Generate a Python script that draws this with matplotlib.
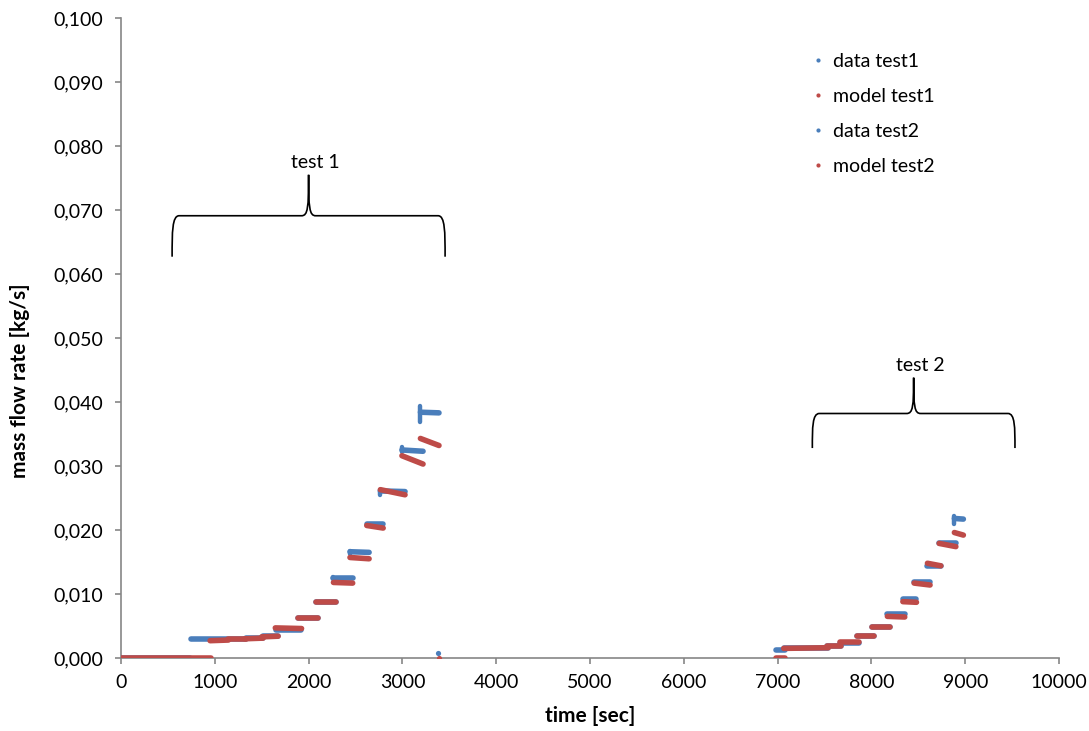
import matplotlib
matplotlib.use("Agg")
import matplotlib.pyplot as plt
from matplotlib.path import Path
from matplotlib.patches import PathPatch
from matplotlib.lines import Line2D
from matplotlib.ticker import FuncFormatter, MultipleLocator

plt.rcParams['font.family'] = ['Lato', 'DejaVu Sans']

blue = '#4A7EBB'
red = '#BE4B48'

# segments: start time, end time, value at start, value at end
d1_t0 = [0, 750, 1330, 1510, 1650, 1890, 2075, 2265, 2441, 2620, 2765, 2995, 3192]
d1_t1 = [740, 1330, 1510, 1670, 1920, 2100, 2295, 2470, 2645, 2795, 3028, 3220, 3390]
d1_v0 = [0, 0.0029, 0.0031, 0.0034, 0.0044, 0.0062, 0.0088, 0.0125, 0.0166, 0.0209, 0.0261, 0.0325, 0.0384]
d1_v1 = [0, 0.0029, 0.0031, 0.0034, 0.0044, 0.0062, 0.0088, 0.0125, 0.0165, 0.0209, 0.0260, 0.0323, 0.0383]
# short vertical jumps at the start of some steps
d1_jt = [2265, 2441, 2761, 2995, 3190]
d1_jlo = [0.0123, 0.0162, 0.0254, 0.0322, 0.0369]
d1_jhi = [0.0127, 0.0167, 0.0262, 0.0330, 0.0394]
d1_pt = [3376]
d1_pv = [0.0007]

m1_t0 = [0, 950, 1145, 1320, 1500, 1645, 1890, 2075, 2265, 2441, 2620, 2765, 2995, 3192]
m1_t1 = [960, 1145, 1330, 1515, 1675, 1925, 2100, 2295, 2470, 2645, 2795, 3028, 3220, 3390]
m1_v0 = [0, 0.0027, 0.0029, 0.0030, 0.0033, 0.0047, 0.0063, 0.0087, 0.0118, 0.0157, 0.0207, 0.0263, 0.0316, 0.0343]
m1_v1 = [0, 0.0028, 0.0029, 0.0031, 0.0034, 0.0046, 0.0063, 0.0087, 0.0117, 0.0155, 0.0203, 0.0255, 0.0303, 0.0332]
m1_pt = [3390]
m1_pv = [0.0]

d2_t0 = [6985, 7065, 7525, 7665, 7845, 8005, 8170, 8335, 8455, 8597, 8722, 8884]
d2_t1 = [7075, 7540, 7680, 7870, 8030, 8195, 8355, 8480, 8625, 8740, 8900, 8980]
d2_v0 = [0.00125, 0.0016, 0.0018, 0.0024, 0.0034, 0.0048, 0.0068, 0.0092, 0.0118, 0.0144, 0.0179, 0.0218]
d2_v1 = [0.00125, 0.0016, 0.0018, 0.0024, 0.0034, 0.0048, 0.0068, 0.0092, 0.0118, 0.0144, 0.0179, 0.0217]
d2_jt = [8884]
d2_jlo = [0.0210]
d2_jhi = [0.0222]

m2_t0 = [6985, 7065, 7525, 7665, 7845, 8005, 8170, 8335, 8455, 8597, 8722, 8884]
m2_t1 = [7075, 7540, 7680, 7870, 8030, 8195, 8355, 8480, 8625, 8740, 8900, 8980]
m2_v0 = [0, 0.0015, 0.0019, 0.0025, 0.0035, 0.0048, 0.0065, 0.0088, 0.0117, 0.0148, 0.0179, 0.0196]
m2_v1 = [0, 0.0016, 0.0019, 0.0025, 0.0035, 0.0048, 0.0064, 0.0087, 0.0114, 0.0144, 0.0174, 0.0192]

labels = ['data test1', 'model test1', 'data test2', 'model test2']

# braces: left, right, bottom, middle, tip, label
braces = [(545, 3455, 0.0627, 0.0691, 0.0755, 'test 1'),
          (7370, 9530, 0.0328, 0.0382, 0.0438, 'test 2')]

fig = plt.figure(figsize=(10.89, 7.31), dpi=100)
ax = fig.add_axes([0.1111, 0.0999, 0.8614, 0.8755])

lw = 4.0


def draw_steps(t0, t1, v0, v1, col):
    for a, b, c, d in zip(t0, t1, v0, v1):
        ax.plot([a, b], [c, d], color=col, lw=lw, solid_capstyle='round', zorder=3)


def draw_jumps(jt, lo, hi, col):
    for a, c, d in zip(jt, lo, hi):
        ax.plot([a, a], [c, d], color=col, lw=lw * 0.8, solid_capstyle='round', zorder=3)


draw_steps(d1_t0, d1_t1, d1_v0, d1_v1, blue)
draw_jumps(d1_jt, d1_jlo, d1_jhi, blue)
ax.scatter(d1_pt, d1_pv, s=14, color=blue, zorder=3, linewidths=0)
draw_steps(m1_t0, m1_t1, m1_v0, m1_v1, red)
ax.scatter(m1_pt, m1_pv, s=14, color=red, zorder=3, linewidths=0)
draw_steps(d2_t0, d2_t1, d2_v0, d2_v1, blue)
draw_jumps(d2_jt, d2_jlo, d2_jhi, blue)
draw_steps(m2_t0, m2_t1, m2_v0, m2_v1, red)

# curly braces
for x0, x1, yb, ym, yt, txt in braces:
    xc = (x0 + x1) / 2
    w = 75
    verts = [(x0, yb),
             (x0, yb + 0.6 * (ym - yb)), (x0, ym), (x0 + w, ym),
             (xc - w, ym),
             (xc - 0.1 * w, ym), (xc, ym + 0.2 * (yt - ym)), (xc, yt),
             (xc, ym + 0.2 * (yt - ym)), (xc + 0.1 * w, ym), (xc + w, ym),
             (x1 - w, ym),
             (x1, ym), (x1, yb + 0.6 * (ym - yb)), (x1, yb)]
    codes = [Path.MOVETO,
             Path.CURVE4, Path.CURVE4, Path.CURVE4,
             Path.LINETO,
             Path.CURVE4, Path.CURVE4, Path.CURVE4,
             Path.CURVE4, Path.CURVE4, Path.CURVE4,
             Path.LINETO,
             Path.CURVE4, Path.CURVE4, Path.CURVE4]
    ax.add_patch(PathPatch(Path(verts, codes), fill=False, lw=1.2, color='black', zorder=4))
    ax.text(xc + 70, yt + 0.0006, txt, ha='center', va='bottom', fontsize=14)

ax.set_xlim(0, 10000)
ax.set_ylim(0, 0.1)
ax.xaxis.set_major_locator(MultipleLocator(1000))
ax.yaxis.set_major_locator(MultipleLocator(0.01))
ax.yaxis.set_major_formatter(FuncFormatter(lambda v, p: f"{v:.3f}".replace('.', ',')))
for s in ['top', 'right']:
    ax.spines[s].set_visible(False)
for s in ['left', 'bottom']:
    ax.spines[s].set_color('#868686')
    ax.spines[s].set_linewidth(1.2)
ax.tick_params(direction='out', length=4.5, width=1.2, color='#868686', labelsize=14)
ax.tick_params(axis='y', pad=8.5)
ax.tick_params(axis='x', pad=7)

ax.set_xlabel('time [sec]', fontsize=15, fontweight='bold')
ax.set_ylabel('mass flow rate [kg/s]', fontsize=15, fontweight='bold')
ax.xaxis.set_label_coords(0.5, -0.075)
ax.yaxis.set_label_coords(-0.097, 0.434)

handles = [Line2D([], [], ls='none', marker='o', ms=3, color=c, mec='none')
           for c in [blue, red, blue, red]]
fig.legend(handles, labels, loc='upper left', bbox_to_anchor=(0.73, 0.952),
           frameon=False, fontsize=14, labelspacing=0.93, handlelength=0.6,
           handletextpad=0.45)

fig.savefig('out.png', dpi=100)
